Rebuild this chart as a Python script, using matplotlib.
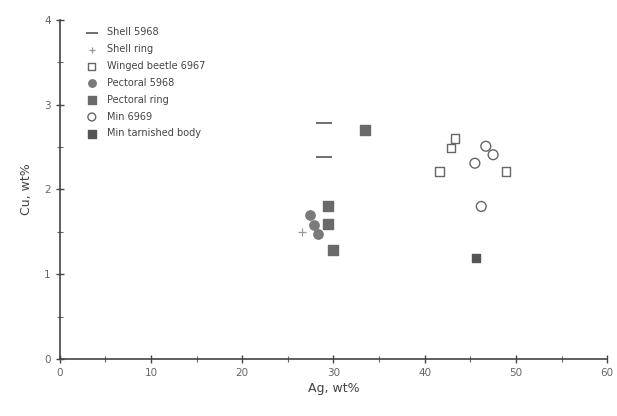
import matplotlib
matplotlib.use("Agg")
import matplotlib.pyplot as plt
from matplotlib.ticker import MultipleLocator

shell_5968_ag = [29.0, 29.0]
shell_5968_cu = [2.79, 2.38]
shell_ring_ag = [26.6]
shell_ring_cu = [1.50]
winged_ag = [43.3, 42.9, 41.6, 48.9]
winged_cu = [2.60, 2.49, 2.21, 2.21]
pect5968_ag = [27.4, 27.9, 28.3]
pect5968_cu = [1.70, 1.58, 1.48]
pectring_ag = [29.4, 29.4, 29.9, 33.5]
pectring_cu = [1.80, 1.59, 1.29, 2.70]
min6969_ag = [45.5, 46.7, 47.5, 46.2]
min6969_cu = [2.31, 2.51, 2.41, 1.80]
mintarn_ag = [45.6]
mintarn_cu = [1.19]

fig = plt.figure(figsize=(6.17, 4.16), dpi=100)
ax = fig.add_axes([0.097, 0.137, 0.887, 0.815])

ax.scatter(shell_5968_ag, shell_5968_cu, marker='_', s=130, color='#555555', linewidths=1.2, label='Shell 5968')
ax.scatter(shell_ring_ag, shell_ring_cu, marker='+', s=30, color='#999999', linewidths=0.9, label='Shell ring')
ax.scatter(winged_ag, winged_cu, marker='s', s=38, facecolors='none', edgecolors='#666666', linewidths=1.0, label='Winged beetle 6967')
ax.scatter(pect5968_ag, pect5968_cu, marker='o', s=45, color='#7a7a7a', label='Pectoral 5968')
ax.scatter(pectring_ag, pectring_cu, marker='s', s=45, color='#6a6a6a', label='Pectoral ring')
ax.scatter(min6969_ag, min6969_cu, marker='o', s=50, facecolors='none', edgecolors='#666666', linewidths=1.0, label='Min 6969')
ax.scatter(mintarn_ag, mintarn_cu, marker='s', s=40, color='#555555', label='Min tarnished body')

ax.set_xlim(0, 60)
ax.set_ylim(0, 4)
ax.xaxis.set_major_locator(MultipleLocator(10))
ax.xaxis.set_minor_locator(MultipleLocator(5))
ax.yaxis.set_major_locator(MultipleLocator(1))
ax.yaxis.set_minor_locator(MultipleLocator(0.5))
for s in ['top', 'right']:
    ax.spines[s].set_visible(False)
for s in ['left', 'bottom']:
    ax.spines[s].set_color('#444444')
    ax.spines[s].set_linewidth(1.2)
ax.tick_params(which='major', direction='inout', length=6, width=1, colors='#444444', labelsize=7.5, labelcolor='#666666')
ax.tick_params(which='minor', direction='inout', length=4, width=0.8, colors='#666666')
ax.set_xlabel('Ag, wt%', fontsize=9, color='#444444', labelpad=3)
ax.set_ylabel('Cu, wt%', fontsize=9, color='#444444', labelpad=8)

ax.legend(loc='upper left', bbox_to_anchor=(0.03, 0.995), frameon=False, fontsize=7,
          labelcolor='#444444', handletextpad=0.6, labelspacing=0.7, borderaxespad=0.2, markerscale=0.8)

fig.savefig('out.png', dpi=100)
